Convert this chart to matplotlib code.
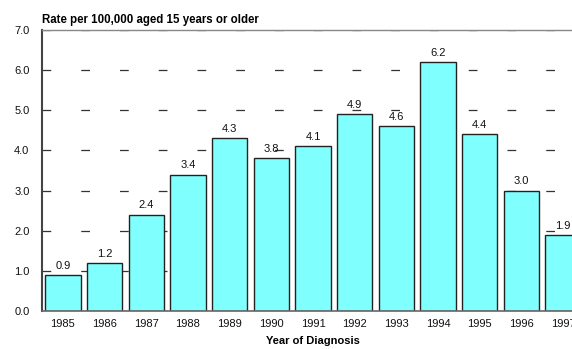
import matplotlib
matplotlib.use("Agg")
import matplotlib.pyplot as plt

plt.rcParams['font.family'] = ['Liberation Sans', 'DejaVu Sans']

years = [1985, 1986, 1987, 1988, 1989, 1990, 1991, 1992, 1993, 1994, 1995, 1996, 1997]
rates = [0.9, 1.2, 2.4, 3.4, 4.3, 3.8, 4.1, 4.9, 4.6, 6.2, 4.4, 3.0, 1.9]
yticks = [0.0, 1.0, 2.0, 3.0, 4.0, 5.0, 6.0, 7.0]

fig = plt.figure(figsize=(5.72, 3.49), dpi=100)
ax = fig.add_axes([42 / 572, 38 / 349, 542 / 572, 281 / 349])

ax.set_axisbelow(True)
ax.bar(years, rates, width=0.85, color='#80FFFF', edgecolor='#222222', linewidth=1.0, zorder=2)

for x, v in zip(years, rates):
    ax.annotate(f"{v:.1f}", (x, v), xytext=(0, 3), textcoords='offset points',
                ha='center', va='bottom', fontsize=8, color='#111111', zorder=3)

ax.set_xlim(1984.5, 1997.5)
ax.set_ylim(0, 7.0)
ax.set_yticks(yticks)
ax.set_yticklabels([f"{t:.1f}" for t in yticks])
ax.set_xticks(years)
ax.set_xticklabels([str(y) for y in years])
ax.tick_params(axis='both', length=0, labelsize=8, colors='#111111')
ax.tick_params(axis='y', pad=9)
ax.tick_params(axis='x', pad=6)

ax.yaxis.grid(True, color='#333333', linewidth=0.9, linestyle=(0, (7.0, 24.0)), zorder=0)
ax.xaxis.grid(False)

ax.spines['left'].set_color('#444444')
ax.spines['left'].set_linewidth(1.5)
ax.spines['bottom'].set_color('#666666')
ax.spines['bottom'].set_linewidth(1.2)
ax.spines['top'].set_color('#888888')
ax.spines['top'].set_linewidth(1.0)
ax.spines['right'].set_visible(False)

ax.set_xlabel("Year of Diagnosis", fontsize=8, fontweight='bold', labelpad=5)
ax.text(0, 1.014, "Rate per 100,000 aged 15 years or older", transform=ax.transAxes,
        ha='left', va='bottom', fontsize=8.3, fontweight='bold')

fig.savefig("out.png", dpi=100)
